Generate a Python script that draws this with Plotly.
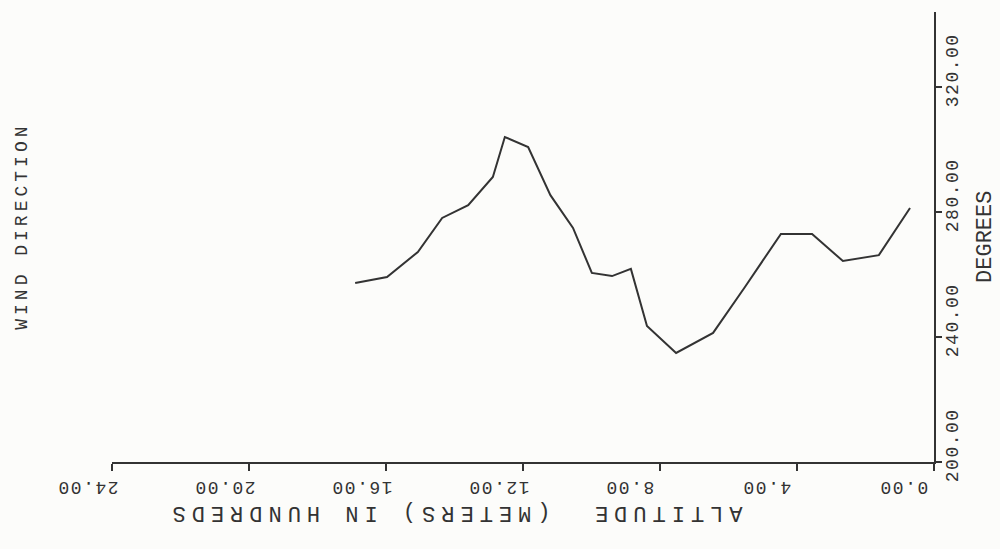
import plotly.graph_objects as go

# Altitude in hundreds of meters, wind direction in degrees
altitude = [16.9, 15.97, 15.07, 14.36, 13.6, 12.88, 12.53, 11.85, 11.2, 10.54, 9.99,
            9.4, 8.85, 8.38, 7.53, 6.45, 5.52, 4.47, 3.56, 2.66, 1.61, 0.7]
direction = [257.3, 259.2, 267.2, 278.1, 282.2, 291.2, 304.0, 300.8, 285.4, 274.9, 260.5,
             259.5, 261.8, 243.5, 234.9, 241.3, 256.0, 273.0, 273.0, 264.3, 266.2, 281.3]

x_tickvals = [0, 4, 8, 12, 16, 20, 24]
x_ticktext = ["\u00a00.00", "\u00a04.00", "\u00a08.00", "12.00", "16.00", "20.00", "24.00"]
y_tickvals = [200, 240, 280, 320]
y_ticktext = ["200.00", "240.00", "280.00", "320.00"]

x_title = "ALTITUDE\u00a0\u00a0(METERS)\u00a0IN\u00a0HUNDREDS"
y_title_left = "WIND DIRECTION"
y_title_right = "DEGREES"

INK = "#333333"
BG = "#fcfcfa"
FONT = "Liberation Mono"

def spaced(s, px):
    return f'<span style="letter-spacing:{px}px">{s}</span>'

fig = go.Figure()
fig.add_trace(go.Scatter(x=altitude, y=direction, mode="lines",
                         line=dict(color=INK, width=2), showlegend=False))

fig.update_layout(
    width=1000, height=549,
    margin=dict(l=112, r=66, t=12, b=87, autoexpand=False),
    paper_bgcolor=BG, plot_bgcolor=BG,
    xaxis=dict(range=[24, 0], showgrid=False, zeroline=False, automargin=False,
               showline=True, linecolor=INK, linewidth=1.5,
               ticks="outside", ticklen=7, tickcolor=INK, tickwidth=1.5,
               tickvals=x_tickvals,
               ticktext=[spaced(t, 1.5) for t in x_ticktext],
               tickangle=180, ticklabelshift=55, ticklabelstandoff=8,
               tickfont=dict(family=FONT, size=18, color=INK)),
    yaxis=dict(range=[200, 344], side="right", showgrid=False, zeroline=False,
               automargin=False,
               showline=True, linecolor=INK, linewidth=1.5,
               ticks="outside", ticklen=6, tickcolor=INK, tickwidth=1.5,
               tickvals=y_tickvals,
               ticktext=[spaced(t, 1.5) for t in y_ticktext],
               tickangle=-90, ticklabelshift=-14, ticklabelstandoff=-5,
               tickfont=dict(family=FONT, size=18, color=INK)),
    annotations=[
        dict(text=spaced(x_title, 6), xref="paper", yref="paper", x=0.417, y=0,
             yshift=-51, xanchor="center", yanchor="middle", showarrow=False,
             textangle=180, font=dict(family=FONT, size=22, color=INK)),
        dict(text=spaced(y_title_left, 4), xref="paper", yref="paper", x=-0.1095, y=0.525,
             xanchor="center", yanchor="middle", showarrow=False,
             textangle=-90, font=dict(family=FONT, size=18, color=INK)),
        dict(text=spaced(y_title_right, 0), xref="paper", yref="paper", x=1.062, y=0.50,
             xanchor="center", yanchor="middle", showarrow=False,
             textangle=-90, font=dict(family=FONT, size=22, color=INK)),
    ],
)

fig.write_html(
    "out.html",
    config={"displayModeBar": False},
    post_script="document.body.style.margin='0';document.body.style.background='%s';" % BG,
)
